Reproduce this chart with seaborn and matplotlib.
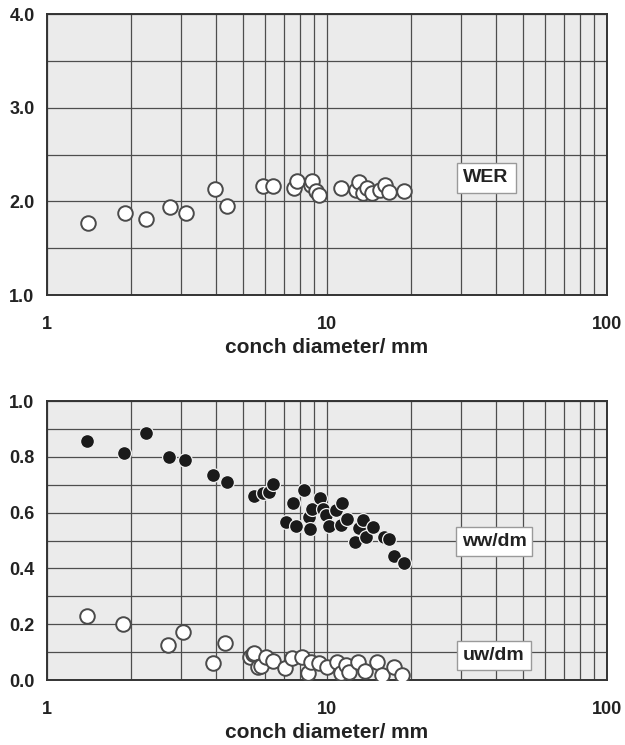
import numpy as np
import pandas as pd
import matplotlib
matplotlib.use("Agg")
import matplotlib.pyplot as plt
import seaborn as sns
from matplotlib.ticker import FixedLocator, LogLocator, NullFormatter, MultipleLocator

# ---- data ----
wer_diam = [1.40, 1.90, 2.25, 2.74, 3.14, 3.98, 4.40, 5.89, 6.42, 7.63, 7.84, 8.75,
            8.87, 9.12, 9.37, 11.2, 12.7, 13.0, 13.4, 13.9, 14.5, 15.5, 16.1, 16.6, 18.9]
wer_vals = [1.77, 1.88, 1.81, 1.94, 1.88, 2.13, 1.95, 2.16, 2.16, 2.14, 2.22, 2.17,
            2.22, 2.11, 2.07, 2.14, 2.12, 2.21, 2.09, 2.14, 2.09, 2.12, 2.17, 2.10, 2.11]

ww_diam = [1.39, 1.88, 2.25, 2.72, 3.12, 3.93, 4.38, 5.50, 5.92, 6.20, 6.39, 7.13,
           7.53, 7.74, 8.28, 8.63, 8.70, 8.87, 9.42, 9.70, 9.89, 10.2, 10.8, 11.2,
           11.3, 11.8, 12.6, 13.0, 13.5, 13.8, 14.6, 15.96, 16.6, 17.4, 18.8]
ww_vals = [0.858, 0.815, 0.886, 0.800, 0.789, 0.735, 0.711, 0.661, 0.669, 0.675, 0.703, 0.565,
           0.636, 0.553, 0.681, 0.585, 0.541, 0.612, 0.651, 0.612, 0.591, 0.553, 0.609, 0.556,
           0.636, 0.577, 0.494, 0.544, 0.573, 0.514, 0.550, 0.514, 0.504, 0.446, 0.418]

uw_diam = [1.39, 1.87, 2.70, 3.07, 3.91, 4.33, 5.30, 5.42, 5.50, 5.65, 5.81, 6.05,
           6.39, 7.09, 7.49, 8.17, 8.58, 8.75, 9.37, 10.0, 10.9, 11.2, 11.7, 12.0,
           12.9, 13.7, 15.1, 15.7, 17.3, 18.6]
uw_vals = [0.229, 0.201, 0.125, 0.171, 0.062, 0.131, 0.081, 0.093, 0.096, 0.048, 0.050, 0.084,
           0.069, 0.042, 0.078, 0.081, 0.026, 0.066, 0.060, 0.048, 0.066, 0.024, 0.054, 0.030,
           0.066, 0.033, 0.066, 0.018, 0.048, 0.018]

x_ticks = [1, 10, 100]
x_ticklabels = ["1", "10", "100"]
top_yticks = [1.0, 2.0, 3.0, 4.0]
bot_yticks = [0.0, 0.2, 0.4, 0.6, 0.8, 1.0]
xlabel = "conch diameter/ mm"

# ---- style ----
sns.set_theme(style="white")
plt.rcParams['font.family'] = ['Liberation Sans', 'DejaVu Sans']
plt.rcParams['font.weight'] = 'bold'

fig = plt.figure(figsize=(6.25, 7.45), dpi=100)
ax1 = fig.add_axes([0.0752, 0.604, 0.896, 0.377])
ax2 = fig.add_axes([0.0752, 0.0872, 0.896, 0.3745])

GRID = '#4d4d4d'
FACE = '#ebebeb'

def style_axes(ax, ylim, yticks, yminor, ylabfmt):
    ax.set_facecolor(FACE)
    ax.set_xscale('log')
    ax.set_xlim(1, 100)
    ax.set_ylim(*ylim)
    ax.xaxis.set_major_locator(FixedLocator(x_ticks))
    ax.set_xticklabels(x_ticklabels)
    ax.xaxis.set_minor_locator(LogLocator(base=10, subs=range(2, 10)))
    ax.xaxis.set_minor_formatter(NullFormatter())
    ax.set_yticks(yticks)
    ax.set_yticklabels([ylabfmt.format(v) for v in yticks])
    ax.yaxis.set_minor_locator(MultipleLocator(yminor))
    ax.set_axisbelow(True)
    ax.grid(True, which='both', axis='both', color=GRID, lw=0.9)
    for s in ax.spines.values():
        s.set_color('#333333')
        s.set_linewidth(1.4)
    ax.tick_params(axis='y', which='major', direction='out', length=4, width=1,
                   color='#333333', pad=5, labelsize=13)
    ax.tick_params(axis='x', which='major', direction='out', length=3, width=1,
                   color='#333333', pad=12, labelsize=13)
    ax.tick_params(which='minor', length=0)
    for lab in ax.get_xticklabels() + ax.get_yticklabels():
        lab.set_fontweight('bold')
        lab.set_color('#222222')
    ax.set_xlabel(xlabel, fontsize=15, fontweight='bold', color='#222222', labelpad=4)
    ax.set_ylabel('')

# top panel
sns.scatterplot(x=wer_diam, y=wer_vals, ax=ax1, s=110, color='white',
                edgecolor='#4a4a4a', linewidth=1.4, zorder=3, legend=False)
style_axes(ax1, (1.0, 4.0), top_yticks, 0.5, "{:.1f}")
ax1.text(37, 2.25, 'WER', ha='center', va='center', fontsize=14, fontweight='bold',
         color='#222222', zorder=5,
         bbox=dict(boxstyle='square,pad=0.35', fc='white', ec='#9a9a9a', lw=1))

# bottom panel
sns.scatterplot(x=uw_diam, y=uw_vals, ax=ax2, s=110, color='white',
                edgecolor='#4a4a4a', linewidth=1.4, zorder=3, legend=False)
sns.scatterplot(x=ww_diam, y=ww_vals, ax=ax2, s=100, color='#1a1a1a',
                edgecolor='#f0f0f0', linewidth=0.9, zorder=4, legend=False)
style_axes(ax2, (0.0, 1.0), bot_yticks, 0.1, "{:.1f}")
ax2.text(39.5, 0.496, 'ww/dm', ha='center', va='center', fontsize=14, fontweight='bold',
         color='#222222', zorder=5,
         bbox=dict(boxstyle='square,pad=0.3', fc='white', ec='#9a9a9a', lw=1))
ax2.text(39.5, 0.087, 'uw/dm', ha='center', va='center', fontsize=14, fontweight='bold',
         color='#222222', zorder=5,
         bbox=dict(boxstyle='square,pad=0.3', fc='white', ec='#9a9a9a', lw=1))

fig.savefig('out.png', dpi=100, facecolor='white')
